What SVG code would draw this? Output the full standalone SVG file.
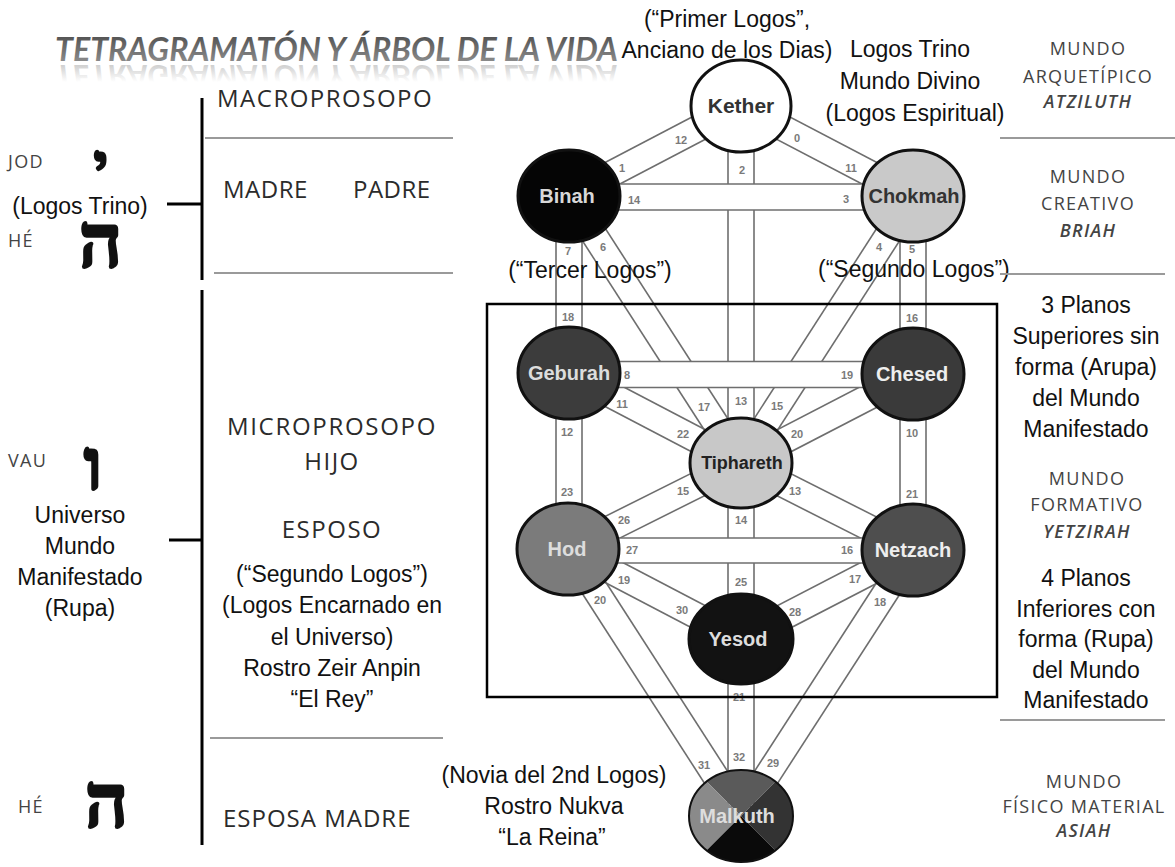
<svg xmlns="http://www.w3.org/2000/svg" width="1175" height="867" viewBox="0 0 1175 867">
<defs>
<style>
.pl{stroke:#6e6e6e;stroke-width:1.6;fill:none}
.hb{fill:#fff;stroke:none}
.pn{font-family:"Liberation Sans",Arial,sans-serif;font-size:11px;font-weight:bold;fill:#7a7a7a;text-anchor:middle}
.nd{stroke:#111;stroke-width:3}
.nl{font-family:"Liberation Sans",Arial,sans-serif;font-size:20px;font-weight:bold;text-anchor:middle}
.t{font-family:"Liberation Sans",Arial,sans-serif;font-size:23px;fill:#111}
.c{text-anchor:middle}
.cal{font-family:"Open Sans","Noto Sans",sans-serif;fill:#2b2b2b}
.big{font-size:24px}
.sm{font-size:18px;letter-spacing:1.3px;fill:#444}
.sep{stroke:#9a9a9a;stroke-width:2}
.blk{stroke:#000;stroke-width:3}
.heb{font-family:"Liberation Serif","DejaVu Serif",serif;font-weight:bold;fill:#111;stroke:#111;stroke-width:3;stroke-linejoin:round}
</style>
<linearGradient id="tg" x1="0" y1="0" x2="0" y2="1">
<stop offset="0" stop-color="#444"/>
<stop offset="1" stop-color="#999"/>
</linearGradient>
<linearGradient id="rg" gradientUnits="userSpaceOnUse" x1="0" y1="61" x2="0" y2="44">
<stop offset="0" stop-color="#888" stop-opacity="0.4"/>
<stop offset="1" stop-color="#888" stop-opacity="0"/>
</linearGradient>
<clipPath id="mclip"><ellipse cx="741" cy="816" rx="52" ry="46"/></clipPath>
</defs>
<rect width="1175" height="867" fill="#fff"/>

<g id="title">
<text x="55" y="61" textLength="563" lengthAdjust="spacingAndGlyphs" style="font-family:Lato,'Open Sans',sans-serif;font-size:32px;font-weight:bold;font-style:italic" fill="url(#tg)">TETRAGRAMATÓN Y ÁRBOL DE LA VIDA</text>
<text x="55" y="61" transform="matrix(1 0 0 -1 0 126)" textLength="563" lengthAdjust="spacingAndGlyphs" style="font-family:Lato,'Open Sans',sans-serif;font-size:32px;font-weight:bold;font-style:italic" fill="url(#rg)" aria-hidden="true">TETRAGRAMATÓN Y ÁRBOL DE LA VIDA</text>
</g>

<g id="left-column">
<line class="blk" x1="202" y1="98" x2="202" y2="280"/>
<line class="blk" x1="202" y1="290" x2="202" y2="845"/>
<line class="blk" x1="167" y1="204" x2="202" y2="204"/>
<line class="blk" x1="169" y1="540" x2="202" y2="540"/>
<line class="sep" x1="205" y1="138" x2="453" y2="138"/>
<line class="sep" x1="214" y1="273" x2="453" y2="273"/>
<line class="sep" x1="210" y1="738" x2="443" y2="738"/>
<text class="cal big" x="217" y="107" letter-spacing="1.5">MACROPROSOPO</text>
<text class="cal big" x="223" y="198" letter-spacing="0.5">MADRE</text>
<text class="cal big" x="353" y="198" letter-spacing="0.5">PADRE</text>
<text class="cal big c" x="332" y="435" letter-spacing="1.7">MICROPROSOPO</text>
<text class="cal big c" x="332" y="470" letter-spacing="1.5">HIJO</text>
<text class="cal big c" x="332" y="538" letter-spacing="1.5">ESPOSO</text>
<text class="cal big" x="223" y="827" letter-spacing="1">ESPOSA  MADRE</text>
<text class="cal sm" x="8" y="168">JOD</text>
<text class="cal sm" x="8" y="247">HÉ</text>
<text class="cal sm" x="8" y="467">VAU</text>
<text class="cal sm" x="18" y="813">HÉ</text>
<text class="heb" x="94" y="182" font-size="52" stroke-width="5">י</text>
<text class="heb" x="79" y="267" font-size="75">ה</text>
<text class="heb" x="84" y="489" font-size="70">ו</text>
<text class="heb" x="85" y="827" font-size="75">ה</text>
<text class="t c" x="80" y="214">(Logos Trino)</text>
<text class="t c" x="80" y="523">Universo</text>
<text class="t c" x="80" y="554">Mundo</text>
<text class="t c" x="80" y="585">Manifestado</text>
<text class="t c" x="80" y="616">(Rupa)</text>
<text class="t c" x="332" y="582">(“Segundo Logos”)</text>
<text class="t c" x="332" y="613">(Logos Encarnado en</text>
<text class="t c" x="332" y="645">el Universo)</text>
<text class="t c" x="332" y="676">Rostro Zeir Anpin</text>
<text class="t c" x="332" y="707">“El Rey”</text>
</g>

<g id="connectors">
<line class="pl" x1="735" y1="94.5" x2="563" y2="184.5"/>
<line class="pl" x1="747" y1="117.5" x2="575" y2="207.5"/>
<line class="pl" x1="735" y1="117.5" x2="907" y2="207.5"/>
<line class="pl" x1="747" y1="94.5" x2="919" y2="184.5"/>
<line class="pl" x1="728" y1="106" x2="728" y2="816"/>
<line class="pl" x1="754" y1="106" x2="754" y2="816"/>
<line class="pl" x1="556" y1="196" x2="556" y2="549"/>
<line class="pl" x1="582" y1="196" x2="582" y2="549"/>
<line class="pl" x1="900" y1="196" x2="900" y2="550"/>
<line class="pl" x1="926" y1="196" x2="926" y2="550"/>
<line class="pl" x1="558.1" y1="203" x2="730.1" y2="470"/>
<line class="pl" x1="579.9" y1="189" x2="751.9" y2="456"/>
<line class="pl" x1="902.1" y1="189" x2="730.1" y2="456"/>
<line class="pl" x1="923.9" y1="203" x2="751.9" y2="470"/>
<line class="pl" x1="563" y1="384.5" x2="735" y2="474.5"/>
<line class="pl" x1="575" y1="361.5" x2="747" y2="451.5"/>
<line class="pl" x1="907" y1="362.5" x2="735" y2="451.5"/>
<line class="pl" x1="919" y1="385.5" x2="747" y2="474.5"/>
<line class="pl" x1="735.2" y1="451.4" x2="563.2" y2="537.4"/>
<line class="pl" x1="746.8" y1="474.6" x2="574.8" y2="560.6"/>
<line class="pl" x1="735.1" y1="474.6" x2="907.1" y2="561.6"/>
<line class="pl" x1="746.9" y1="451.4" x2="918.9" y2="538.4"/>
<line class="pl" x1="563" y1="560.5" x2="735" y2="650.5"/>
<line class="pl" x1="575" y1="537.5" x2="747" y2="627.5"/>
<line class="pl" x1="907" y1="538.5" x2="735" y2="627.5"/>
<line class="pl" x1="919" y1="561.5" x2="747" y2="650.5"/>
<line class="pl" x1="558.1" y1="556" x2="730.1" y2="823"/>
<line class="pl" x1="579.9" y1="542" x2="751.9" y2="809"/>
<line class="pl" x1="902.1" y1="543" x2="730.1" y2="809"/>
<line class="pl" x1="923.9" y1="557" x2="751.9" y2="823"/>
<rect class="hb" x="569" y="184" width="344" height="26"/>
<line class="pl" x1="569" y1="184" x2="913" y2="184"/>
<line class="pl" x1="569" y1="210" x2="913" y2="210"/>
<rect class="hb" x="569" y="361.5" width="344" height="26"/>
<line class="pl" x1="569" y1="361.5" x2="913" y2="361.5"/>
<line class="pl" x1="569" y1="387.5" x2="913" y2="387.5"/>
<rect class="hb" x="569" y="538" width="344" height="25"/>
<line class="pl" x1="569" y1="538" x2="913" y2="538"/>
<line class="pl" x1="569" y1="563" x2="913" y2="563"/>
<g>
<text class="pn" x="681" y="144">12</text>
<text class="pn" x="622" y="172">1</text>
<text class="pn" x="797" y="142">0</text>
<text class="pn" x="851" y="172">11</text>
<text class="pn" x="742" y="174">2</text>
<text class="pn" x="634" y="204">14</text>
<text class="pn" x="846" y="203">3</text>
<text class="pn" x="568" y="255">7</text>
<text class="pn" x="568" y="321">18</text>
<text class="pn" x="603" y="251">6</text>
<text class="pn" x="704" y="411">17</text>
<text class="pn" x="879" y="251">4</text>
<text class="pn" x="777" y="410">15</text>
<text class="pn" x="912" y="253">5</text>
<text class="pn" x="912" y="322">16</text>
<text class="pn" x="627" y="379">8</text>
<text class="pn" x="847" y="379">19</text>
<text class="pn" x="741" y="405">13</text>
<text class="pn" x="622" y="408">11</text>
<text class="pn" x="683" y="438">22</text>
<text class="pn" x="797" y="438">20</text>
<text class="pn" x="567" y="436">12</text>
<text class="pn" x="567" y="496">23</text>
<text class="pn" x="912" y="437">10</text>
<text class="pn" x="912" y="498">21</text>
<text class="pn" x="683" y="495">15</text>
<text class="pn" x="624" y="524">26</text>
<text class="pn" x="795" y="495">13</text>
<text class="pn" x="741" y="524">14</text>
<text class="pn" x="632" y="554">27</text>
<text class="pn" x="847" y="554">16</text>
<text class="pn" x="741" y="586">25</text>
<text class="pn" x="624" y="584">19</text>
<text class="pn" x="682" y="614">30</text>
<text class="pn" x="855" y="583">17</text>
<text class="pn" x="795" y="616">28</text>
<text class="pn" x="600" y="604">20</text>
<text class="pn" x="704" y="769">31</text>
<text class="pn" x="880" y="606">18</text>
<text class="pn" x="773" y="767">29</text>
<text class="pn" x="739" y="701">21</text>
<text class="pn" x="739" y="761">32</text>
</g>
<rect x="487" y="304" width="510" height="393" fill="none" stroke="#000" stroke-width="2.5"/>
</g>

<g id="kether"><ellipse class="nd" cx="741" cy="106" rx="50" ry="46" fill="#fff"/><text class="nl" x="741" y="113" fill="#333" style="font-size:21px">Kether</text></g>
<g id="binah"><ellipse class="nd" cx="569" cy="196" rx="51" ry="46" fill="#050505"/><text class="nl" x="567" y="203" fill="#d8d8d8">Binah</text></g>
<g id="chokmah"><ellipse class="nd" cx="913" cy="196" rx="51" ry="46" fill="#c9c9c9"/><text class="nl" x="914" y="203" fill="#333">Chokmah</text></g>
<g id="geburah"><ellipse class="nd" cx="569" cy="373" rx="51" ry="46" fill="#3c3c3c"/><text class="nl" x="569" y="380" fill="#ddd">Geburah</text></g>
<g id="chesed"><ellipse class="nd" cx="913" cy="374" rx="51" ry="46" fill="#3a3a3a"/><text class="nl" x="912" y="381" fill="#eee">Chesed</text></g>
<g id="tiphareth"><ellipse class="nd" cx="741" cy="463" rx="51" ry="45" fill="#c8c8c8"/><text class="nl" x="742" y="469" fill="#222" style="font-size:18px">Tiphareth</text></g>
<g id="hod"><ellipse class="nd" cx="568" cy="549" rx="51" ry="46" fill="#7b7b7b"/><text class="nl" x="567" y="556" fill="#ddd">Hod</text></g>
<g id="netzach"><ellipse class="nd" cx="913" cy="550" rx="51" ry="46" fill="#4e4e4e"/><text class="nl" x="913" y="557" fill="#eee">Netzach</text></g>
<g id="yesod"><ellipse class="nd" cx="741" cy="639" rx="52" ry="45" fill="#121212"/><text class="nl" x="738" y="646" fill="#ddd">Yesod</text></g>
<g id="malkuth">
<g clip-path="url(#mclip)">
<polygon points="741,816 681,756 801,756" fill="#5a5a5a"/>
<polygon points="741,816 681,756 681,876" fill="#8a8a8a"/>
<polygon points="741,816 801,756 801,876" fill="#333"/>
<polygon points="741,816 681,876 801,876" fill="#0a0a0a"/>
</g>
<ellipse cx="741" cy="816" rx="52" ry="46" fill="none" stroke="#111" stroke-width="2"/>
<text class="nl" x="737" y="823" fill="#ddd">Malkuth</text>
</g>

<g id="tree-annotations">
<text class="t c" x="727" y="27">(“Primer Logos”,</text>
<text class="t c" x="727" y="58">Anciano de los Dias)</text>
<text class="t c" x="910" y="57">Logos Trino</text>
<text class="t c" x="910" y="89">Mundo Divino</text>
<text class="t c" x="915" y="121">(Logos Espiritual)</text>
<text class="t c" x="590" y="278">(“Tercer Logos”)</text>
<text class="t" x="818" y="277">(“Segundo Logos”)</text>
<text class="t c" x="554" y="783">(Novia del 2nd Logos)</text>
<text class="t c" x="554" y="814">Rostro Nukva</text>
<text class="t c" x="552" y="845">“La Reina”</text>
</g>

<g id="right-column">
<line class="sep" x1="1000" y1="138" x2="1175" y2="138"/>
<line class="sep" x1="1000" y1="274" x2="1165" y2="274"/>
<line class="sep" x1="1000" y1="720" x2="1165" y2="720"/>
<text class="cal sm c" x="1088" y="55">MUNDO</text>
<text class="cal sm c" x="1088" y="83">ARQUETÍPICO</text>
<text class="cal sm c" x="1088" y="108" font-style="italic" font-weight="600">ATZILUTH</text>
<text class="cal sm c" x="1088" y="183">MUNDO</text>
<text class="cal sm c" x="1088" y="210">CREATIVO</text>
<text class="cal sm c" x="1088" y="237" font-style="italic" font-weight="600">BRIAH</text>
<text class="t c" x="1086" y="313">3 Planos</text>
<text class="t c" x="1086" y="344">Superiores sin</text>
<text class="t c" x="1086" y="375">forma (Arupa)</text>
<text class="t c" x="1086" y="406">del Mundo</text>
<text class="t c" x="1086" y="437">Manifestado</text>
<text class="cal sm c" x="1087" y="485">MUNDO</text>
<text class="cal sm c" x="1087" y="511">FORMATIVO</text>
<text class="cal sm c" x="1087" y="538" font-style="italic" font-weight="600">YETZIRAH</text>
<text class="t c" x="1086" y="586">4 Planos</text>
<text class="t c" x="1086" y="617">Inferiores con</text>
<text class="t c" x="1086" y="647">forma (Rupa)</text>
<text class="t c" x="1086" y="678">del Mundo</text>
<text class="t c" x="1086" y="708">Manifestado</text>
<text class="cal sm c" x="1084" y="788">MUNDO</text>
<text class="cal sm c" x="1084" y="813">FÍSICO MATERIAL</text>
<text class="cal sm c" x="1084" y="837" font-style="italic" font-weight="600">ASIAH</text>
</g>
</svg>
